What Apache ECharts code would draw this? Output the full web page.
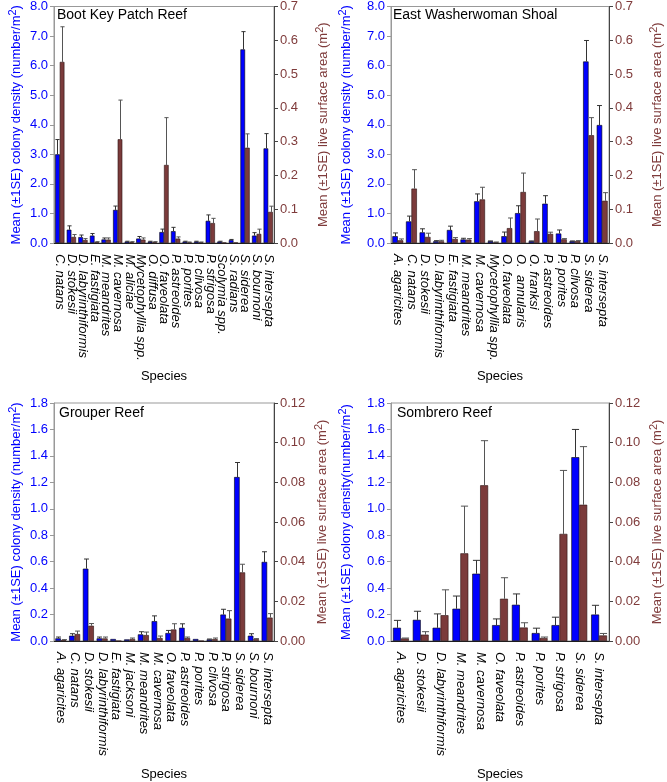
<!DOCTYPE html>
<html><head><meta charset="utf-8">
<script src="https://cdn.jsdelivr.net/npm/echarts@6/dist/echarts.min.js"></script>
<style>html,body{margin:0;padding:0;background:#fff}#c{width:667px;height:782px}</style>
</head><body><div id="c"></div>
<script>
// ---- Boot Key Patch Reef
var cats1 = ['C. natans','D. stokesii','D. labyrinthiformis','E. fastigiata','M. meandrites','M. cavernosa','M. aliciae','Mycetophyllia spp.','O. diffusa','O. faveolata','P. astreoides','P. porites','P. clivosa','P. strigosa','Scolymia spp.','S. radians','S. siderea','S. bournoni','S. intersepta'];
var dens1 = [3.0,0.45,0.2,0.25,0.12,1.12,0.05,0.15,0.05,0.37,0.4,0.05,0.05,0.75,0.05,0.1,6.55,0.25,3.2];
var dens1Hi = [3.5,0.58,0.27,0.32,0.17,1.25,0.06,0.22,0.06,0.47,0.53,0.06,0.06,0.95,0.06,0.12,7.15,0.35,3.7];
var area1 = [0.536,0.018,0.009,0.003,0.01,0.307,0.003,0.01,0.003,0.231,0.013,0.002,0.002,0.059,0.001,0.001,0.282,0.027,0.092];
var area1Hi = [0.64,0.025,0.013,0.004,0.015,0.423,0.004,0.015,0.004,0.371,0.018,0.003,0.003,0.073,0.001,0.001,0.323,0.041,0.109];
// ---- East Washerwoman Shoal
var cats2 = ['A. agaricites','C. natans','D. stokesii','D. labyrinthiformis','E. fastigiata','M. meandrites','M. cavernosa','Mycetophyllia spp.','O. faveolata','O.  annularis','O. franksi','P. astreoides','P. porites','P. clivosa','S. siderea','S. intersepta'];
var dens2 = [0.23,0.73,0.36,0.06,0.44,0.12,1.41,0.06,0.23,1.01,0.06,1.33,0.32,0.06,6.14,3.99];
var dens2Hi = [0.34,0.91,0.48,0.08,0.57,0.16,1.66,0.07,0.37,1.26,0.07,1.6,0.44,0.07,6.85,4.65];
var area2 = [0.008,0.161,0.018,0.005,0.012,0.01,0.129,0.002,0.044,0.151,0.035,0.027,0.011,0.006,0.319,0.125];
var area2Hi = [0.012,0.217,0.029,0.008,0.016,0.013,0.165,0.003,0.074,0.207,0.071,0.032,0.013,0.007,0.371,0.149];
// ---- Grouper Reef
var cats3 = ['A. agaricites','C. natans','D. stokesii','D. labyrinthiformis','E. fastigiata','M. jacksoni','M. meandrites','M. cavernosa','O. faveolata','P. astreoides','P. porites','P. clivosa','P. strigosa','S. siderea','S. bournoni','S. intersepta'];
var dens3 = [0.02,0.04,0.547,0.02,0.015,0.012,0.05,0.15,0.06,0.1,0.015,0.012,0.2,1.24,0.04,0.598];
var dens3Hi = [0.03,0.055,0.62,0.03,0.015,0.012,0.07,0.19,0.08,0.13,0.015,0.015,0.24,1.35,0.055,0.675];
var area3 = [0.0005,0.0035,0.0077,0.0013,0,0.001,0.003,0.0015,0.0058,0.0015,0,0.001,0.0113,0.0346,0.001,0.0118];
var area3Hi = [0.0007,0.005,0.0088,0.002,0,0.0015,0.0045,0.0025,0.0087,0.002,0,0.0015,0.0153,0.0387,0.0012,0.0138];
// ---- Sombrero Reef
var cats4 = ['A. agaricites','D. stokesii','D. labyrinthiformis','M. meandrites','M. cavernosa','O. faveolata','P. astreoides','P. porites','P. strigosa','S. siderea','S. intersepta'];
var dens4 = [0.1,0.16,0.1,0.244,0.509,0.12,0.274,0.06,0.12,1.39,0.2];
var dens4Hi = [0.156,0.225,0.205,0.34,0.61,0.167,0.356,0.097,0.18,1.6,0.27];
var area4 = [0.0013,0.0032,0.013,0.0442,0.0785,0.0213,0.0068,0.0015,0.054,0.0687,0.0028];
var area4Hi = [0.0015,0.0047,0.0258,0.068,0.101,0.0319,0.0092,0.002,0.086,0.098,0.0038];

var titles = ['Boot Key Patch Reef','East Washerwoman Shoal','Grouper Reef','Sombrero Reef'];
var leftNames = ['Mean (±1SE) colony density (number/m{sup|2})','Mean (±1SE) colony density (number/m{sup|2})','Mean (±1SE) colony density (number/m{sup|2})','Mean (±1SE) colony density(number/m{sup|2})'];
var rightName = 'Mean (±1SE) live surface area (m{sup|2})';

var FONT = 'Liberation Sans, Arial, sans-serif';
var BLUE = '#0000ff', BROWN = '#7b3b3b', BROWNTXT = '#7f3b3b';
var GAP = 0.2;

var panels = [
  {cats:cats1, d:dens1, dh:dens1Hi, a:area1, ah:area1Hi},
  {cats:cats2, d:dens2, dh:dens2Hi, a:area2, ah:area2Hi},
  {cats:cats3, d:dens3, dh:dens3Hi, a:area3, ah:area3Hi},
  {cats:cats4, d:dens4, dh:dens4Hi, a:area4, ah:area4Hi}
];
var grids = [
  {left:54, top:5, width:220, height:238},
  {left:391, top:5, width:221, height:238},
  {left:54, top:403, width:220, height:238},
  {left:391, top:403, width:221, height:238}
];
var leftAx = [{max:8,interval:1,dec:1},{max:8,interval:1,dec:1},{max:1.8,interval:0.2,dec:1},{max:1.8,interval:0.2,dec:1}];
var rightAx = [{max:0.7,interval:0.1,dec:1},{max:0.7,interval:0.1,dec:1},{max:0.12,interval:0.02,dec:2},{max:0.12,interval:0.02,dec:2}];
var leftGap = [38, 45, 38, 45];
var rightGap = [49, 48, 48, 48];

function errRender(sign, color){
  return function(params, api){
    var x = api.value(0), hi = api.value(1), v = api.value(2);
    if (!(hi > v)) return null;
    var p1 = api.coord([x, v]);
    var p2 = api.coord([x, hi]);
    var band = api.size([1, 0])[0];
    var bw = band * (1 - GAP) / 2;
    var cx = Math.round(p1[0] + sign * bw / 2) + 0.5;
    var half = Math.max(2, bw * 0.45);
    var st = {stroke: color, lineWidth: 1};
    return {type:'group', children:[
      {type:'line', shape:{x1:cx, y1:p1[1], x2:cx, y2:p2[1]}, style:st},
      {type:'line', shape:{x1:cx-half, y1:p2[1], x2:cx+half, y2:p2[1]}, style:st}
    ]};
  };
}
function nameStyle(color){
  return {fontFamily:FONT, fontSize:13, color:color, lineHeight:18, verticalAlign:'middle',
    rich:{sup:{fontFamily:FONT, fontSize:11, color:color, verticalAlign:'top', lineHeight:18, padding:[0,0,4,0]}}};
}

var option = {
  animation:false,
  textStyle:{fontFamily:FONT},
  title:[], grid:[], xAxis:[], yAxis:[], series:[]
};
var titlePos = [[57,8],[393,8],[59,406],[397,406]];
panels.forEach(function(p, i){
  var g = grids[i];
  option.grid.push({left:g.left, top:g.top, width:g.width, height:g.height, show:true, borderColor:'#999', borderWidth:1, backgroundColor:'transparent'});
  option.title.push({text:titles[i], left:titlePos[i][0], top:titlePos[i][1], padding:0,
    textStyle:{fontFamily:FONT, fontSize:14, fontWeight:'normal', color:'#000'}});
  option.xAxis.push({type:'category', gridIndex:i, data:p.cats,
    name:'Species', nameLocation:'middle', nameGap:127,
    nameTextStyle:{fontFamily:FONT, fontSize:13, color:'#000'},
    axisLine:{lineStyle:{color:'#222'}},
    axisTick:{alignWithLabel:true, length:4, lineStyle:{color:'#444'}},
    axisLabel:{interval:0, rotate:-90, margin:11, fontFamily:FONT, fontSize:13, fontStyle:'italic', color:'#000', hideOverlap:false},
    splitLine:{show:false}});
  var L = leftAx[i], R = rightAx[i];
  option.yAxis.push({type:'value', gridIndex:i, min:0, max:L.max, interval:L.interval, position:'left',
    name:leftNames[i], nameLocation:'middle', nameRotate:90, nameGap:leftGap[i],
    nameTextStyle:nameStyle(BLUE),
    axisLine:{show:true, lineStyle:{color:'#999'}},
    axisTick:{show:true, length:4, lineStyle:{color:'#999'}},
    axisLabel:{margin:6, fontFamily:FONT, fontSize:13, color:BLUE, formatter:(function(dec){return function(v){return v.toFixed(dec);};})(L.dec)},
    splitLine:{show:false}});
  option.yAxis.push({type:'value', gridIndex:i, min:0, max:R.max, interval:R.interval, position:'right',
    name:rightName, nameLocation:'middle', nameRotate:90, nameGap:rightGap[i],
    nameTextStyle:nameStyle(BROWNTXT),
    axisLine:{show:true, lineStyle:{color:'#444'}},
    axisTick:{show:true, length:4, lineStyle:{color:'#444'}},
    axisLabel:{margin:6, fontFamily:FONT, fontSize:13, color:BROWNTXT, formatter:(function(dec){return function(v){return v.toFixed(dec);};})(R.dec)},
    splitLine:{show:false}});
  var yl = i*2, yr = i*2+1;
  option.series.push({type:'bar', xAxisIndex:i, yAxisIndex:yl, data:p.d, barGap:'0%', barCategoryGap:(GAP*100)+'%',
    itemStyle:{color:BLUE, borderColor:'#000', borderWidth:0.6}});
  option.series.push({type:'bar', xAxisIndex:i, yAxisIndex:yr, data:p.a, barGap:'0%', barCategoryGap:(GAP*100)+'%',
    itemStyle:{color:BROWN, borderColor:'#2a1010', borderWidth:0.6}});
  option.series.push({type:'custom', xAxisIndex:i, yAxisIndex:yl, z:5,
    renderItem:errRender(-1, '#333'),
    data:p.d.map(function(v,k){return [k, p.dh[k], v];})});
  option.series.push({type:'custom', xAxisIndex:i, yAxisIndex:yr, z:5,
    renderItem:errRender(1, '#555'),
    data:p.a.map(function(v,k){return [k, p.ah[k], v];})});
});

var chart = echarts.init(document.getElementById('c'), null, {renderer:'canvas'});
chart.setOption(option);
</script></body></html>
